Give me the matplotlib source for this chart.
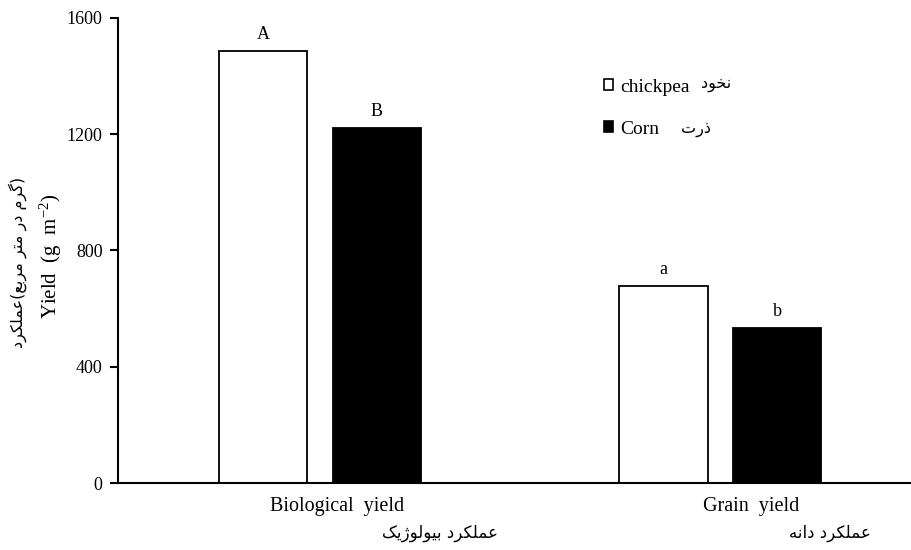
import matplotlib
matplotlib.use("Agg")
import matplotlib.pyplot as plt
from matplotlib.patches import Patch

plt.rcParams['font.family'] = ['Liberation Serif', 'DejaVu Sans']
plt.rcParams['mathtext.fontset'] = 'custom'
plt.rcParams['mathtext.rm'] = 'Liberation Serif'
plt.rcParams['mathtext.it'] = 'Liberation Serif:italic'

# Data
categories = ["Biological  yield", "Grain  yield"]
series = ["chickpea", "Corn"]
chickpea = [1486, 678]
corn = [1221, 533]
letters_chickpea = ["A", "a"]
letters_corn = ["B", "b"]
yticks = [0, 400, 800, 1200, 1600]

# Persian texts, written with Arabic presentation forms in visual (left-to-right) order
w_amalkard = "\uFEA9\uFEAE\uFEDC\uFEE0\uFEE4\uFECB"          # عملکرد
w_biological = "".join(reversed(
    ["\uFE91", "\uFEF4", "\uFEEE", "\uFEDF", "\uFEEE", "\u0698", "\uFEF3", "\uFB8F"]))  # بیولوژیک
w_daneh = "".join(reversed(["\uFEA9", "\uFE8D", "\uFEE7", "\uFEEA"]))  # دانه
cat_fa = [w_biological + " " + w_amalkard, w_daneh + " " + w_amalkard]
series_fa = ["\uFEA9\uFEEE\uFEA8\uFEE7", "\uFE95\uFEAD\uFEAB"]  # نخود , ذرت
ylab_fa = (w_amalkard + "(" +
           "\uFECA\uFE91\uFEAE\uFEE3" + " " + "\uFEAE\uFE98\uFEE3" + " " +
           "\uFEAD\uFEA9" + " " + "\uFEE1\uFEAE\uFB94" + ")")

fig = plt.figure(figsize=(9.12, 5.5), dpi=100)
ax = fig.add_axes([118/912, 1-483/550, (911-118)/912, (483-18)/550])

x = [0, 1]
w = 0.22
off = 0.142
ax.bar([i - off for i in x], chickpea, width=w, color="white",
       edgecolor="black", linewidth=1.3)
ax.bar([i + off for i in x], corn, width=w, color="black",
       edgecolor="black", linewidth=1.3)

for i in x:
    ax.annotate(letters_chickpea[i], (i - off, chickpea[i]), xytext=(0, 6),
                textcoords="offset points", ha="center", va="bottom", fontsize=13)
    ax.annotate(letters_corn[i], (i + off, corn[i]), xytext=(0, 6),
                textcoords="offset points", ha="center", va="bottom", fontsize=13)

ax.set_xlim(-0.504, 1.476)
ax.set_ylim(0, 1600)
ax.set_yticks(yticks)
ax.set_yticklabels([str(v) for v in yticks], fontsize=13)
ax.set_xticks([])
ax.tick_params(axis="y", direction="out", length=6, width=1.5, pad=5)
for s in ["top", "right"]:
    ax.spines[s].set_visible(False)
for s in ["left", "bottom"]:
    ax.spines[s].set_linewidth(1.5)

# category labels
en_centers = [337, 751]
fa_centers = [440, 830]
for i in x:
    fig.text(en_centers[i]/912, 1-507/550, categories[i], ha="center",
             va="center", fontsize=14.5)
    fig.text(fa_centers[i]/912, 1-533/550, cat_fa[i], ha="center", va="center",
             fontsize=12, family="DejaVu Sans")

# y label
fig.text(51/912, 1-256/550, "Yield  (g  m$^{\\mathregular{-2}}$)", rotation=90,
         ha="center", va="center", fontsize=15)
fig.text(18/912, 1-262/550, ylab_fa, rotation=90, ha="center", va="center",
         fontsize=11.5, family="DejaVu Sans")

handles = [Patch(facecolor="white", edgecolor="black", linewidth=1.2),
           Patch(facecolor="black", edgecolor="black", linewidth=1.2)]
ax.legend(handles, series, loc="upper left", bbox_to_anchor=(586/912, 1-61/550),
          bbox_transform=fig.transFigure, frameon=False, fontsize=14,
          handlelength=0.5, handleheight=0.5, handletextpad=0.35,
          labelspacing=1.3)
fa_leg_pos = [(716, 85), (696, 129)]
for (px, py), t in zip(fa_leg_pos, series_fa):
    fig.text(px/912, 1-py/550, t, ha="center", va="center", fontsize=11.5,
             family="DejaVu Sans")

fig.savefig("out.png", dpi=100)
